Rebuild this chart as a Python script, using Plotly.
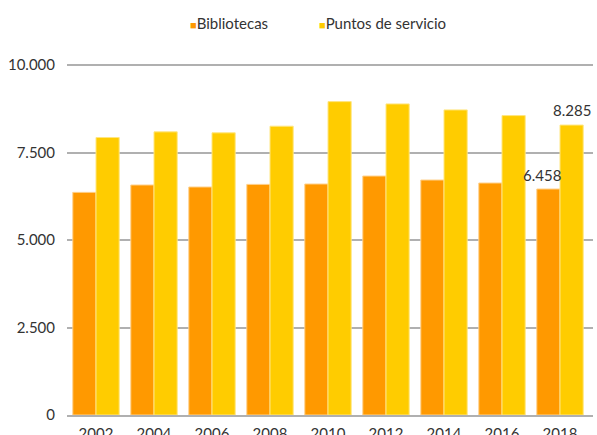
import plotly.graph_objects as go

years = ["2002", "2004", "2006", "2008", "2010", "2012", "2014", "2016", "2018"]
bibliotecas = [6362, 6572, 6515, 6590, 6601, 6828, 6714, 6629, 6458]
puntos = [7929, 8091, 8063, 8253, 8955, 8889, 8718, 8556, 8285]
y_ticks = [0, 2500, 5000, 7500, 10000]
y_ticklabels = ["0", "2.500", "5.000", "7.500", "10.000"]

font_family = "Lato, 'Open Sans', sans-serif"
c_bib = "#FF9900"
c_pun = "#FFCC00"

fig = go.Figure()
fig.add_trace(go.Bar(
    name="Bibliotecas", x=years, y=bibliotecas,
    marker=dict(color=c_bib, line=dict(color="#FFD08A", width=1)),
))
fig.add_trace(go.Bar(
    name="Puntos de servicio", x=years, y=puntos,
    marker=dict(color=c_pun, line=dict(color="#FFE680", width=1)),
))

fmt = lambda v: f"{v:,}".replace(",", ".")
last = len(years) - 1  # category serial index of the last year
fig.add_annotation(x=last, y=bibliotecas[last], text=fmt(bibliotecas[last]),
                   showarrow=False, yanchor="bottom", xanchor="center",
                   xshift=-18, yshift=3, font=dict(size=15, color="#333333", family=font_family))
fig.add_annotation(x=last, y=puntos[last], text=fmt(puntos[last]),
                   showarrow=False, yanchor="bottom", xanchor="center",
                   xshift=12, yshift=4, font=dict(size=15, color="#333333", family=font_family))

# custom legend
W, H, L, R, T, B = 597, 435, 67, 4, 64, 20
PW = W - L - R
PH = H - T - B
def px_to_paper_x(px):
    return (px - L) / PW
def px_to_paper_y(py):
    return (H - B - py) / PH
for lx, name, col in [(188, "Bibliotecas", c_bib), (317, "Puntos de servicio", c_pun)]:
    fig.add_annotation(xref="paper", yref="paper", x=px_to_paper_x(lx), y=px_to_paper_y(23),
                       xanchor="left", yanchor="middle", showarrow=False,
                       text=f"<span style='color:{col};font-size:11px'>■</span>{name}",
                       font=dict(size=15, color="#333333", family=font_family))

fig.update_layout(
    width=W, height=H,
    margin=dict(l=L, r=R, t=T, b=B),
    paper_bgcolor="white", plot_bgcolor="white",
    barmode="group", bargap=0.2, bargroupgap=0,
    font=dict(family=font_family, size=15, color="#333333"),
    showlegend=False,
)
fig.update_xaxes(type="category", automargin=False, showgrid=False, showline=True,
                 linecolor="#b0b0b0", linewidth=1.5,
                 ticks="outside", ticklen=4, tickcolor="rgba(0,0,0,0)",
                 tickfont=dict(size=15, color="#333333"))
fig.update_yaxes(range=[0, 10030], tickvals=y_ticks, ticktext=y_ticklabels, automargin=False,
                 showgrid=True, gridcolor="#b0b0b0", gridwidth=1.5,
                 zeroline=False, ticks="outside", ticklen=8, tickcolor="rgba(0,0,0,0)",
                 tickfont=dict(size=15, color="#333333"))

fig.write_html("out.html", config={"displayModeBar": False},
               post_script="document.body.style.margin='0px';document.body.style.overflow='hidden';")
